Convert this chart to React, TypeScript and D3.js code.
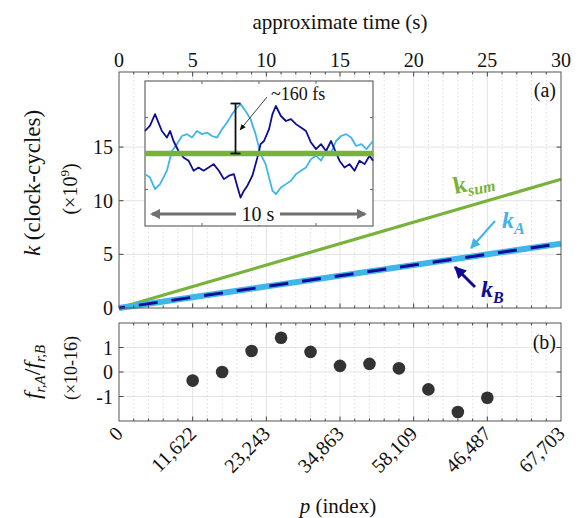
import React from 'react';
import * as d3 from 'd3';

// main panel (a)
const timeTicks = [0, 5, 10, 15, 20, 25, 30];
const kTicks = [0, 5, 10, 15];
const lineTime = [0, 30];
const kSum = [0, 12];
const kA = [0, 6];
const kB = [0, 6];

// panel (b)
const indexTickLabels = ['0', '11,622', '23,243', '34,863', '58,109', '46,487', '67,703'];
const ratioTicks = [-1, 0, 1];
const ratioTime = [5, 7, 9, 11, 13, 15, 17, 19, 21, 23, 25];
const ratioValues = [-0.35, 0, 0.86, 1.4, 0.82, 0.25, 0.33, 0.15, -0.71, -1.63, -1.05];

// inset (time in s, offset in fs)
const insetTimeB = [0, 0.22, 0.44, 0.59, 0.74, 0.96, 1.1, 1.25, 1.47, 1.69, 1.91, 2.13, 2.35, 2.57, 2.79, 3.01, 3.24, 3.46, 3.68, 3.9, 4.04, 4.19, 4.34, 4.49, 4.71, 4.93, 5.07, 5.22, 5.44, 5.59, 5.74, 5.96, 6.18, 6.4, 6.62, 6.84, 7.06, 7.28, 7.5, 7.72, 7.94, 8.16, 8.31, 8.53, 8.75, 8.97, 9.19, 9.41, 9.63, 9.85, 10];
const insetB = [72, 89, 126, 99, 72, 51, 72, 40, 8, -13, -23, -55, -45, -55, -45, -34, -55, -82, -71, -66, -103, -141, -119, -103, -71, -13, 30, 40, 78, 126, 152, 120, 104, 110, 94, 83, 72, 35, 14, 30, 8, 40, 14, -23, -45, -34, -55, -23, -34, -7, -23];
const insetTimeA = [0, 0.22, 0.44, 0.66, 0.96, 1.18, 1.4, 1.62, 1.84, 2.06, 2.28, 2.5, 2.72, 2.94, 3.16, 3.38, 3.6, 3.82, 4.04, 4.19, 4.41, 4.63, 4.85, 5.07, 5.29, 5.44, 5.59, 5.74, 5.96, 6.18, 6.4, 6.62, 6.84, 7.06, 7.28, 7.5, 7.72, 7.94, 8.16, 8.38, 8.6, 8.82, 9.04, 9.26, 9.49, 9.71, 10];
const insetA = [-66, -77, -114, -98, -55, 8, 30, 56, 62, 51, 72, 62, 67, 56, 51, 78, 99, 126, 147, 158, 136, 110, 62, -2, -34, -77, -119, -130, -109, -98, -87, -66, -55, -45, -18, -7, -23, 8, 3, 40, 56, 62, 51, 24, 30, 14, 40];
const insetTimeSum = [0, 10];
const insetSum = [0, 0];
const errorBar = [0, 160];

const GREEN = '#78b23a';
const LIGHT = '#3fb5e8';
const DARK = '#0c0c96';
const FONT = 'Liberation Serif';

export default function App() {
  const xL = 119, xR = 561;
  const aTop = 72, aBot = 308, bTop = 323, bBot = 421;

  const x = d3.scaleLinear().domain([0, 30]).range([xL, xR]);
  const yA = d3.scaleLinear().domain([0, 22]).range([aBot, aTop]);
  const yB = d3.scaleLinear().domain([-2, 2]).range([bBot, bTop]);

  const xi = d3.scaleLinear().domain([0, 10]).range([145, 373]);
  const yi = d3.scaleLinear().domain([-232, 232]).range([226, 81]);

  const minor = d3.range(1, 30).filter((v) => v % 5 !== 0);

  const mainLine = (vals: number[]) =>
    d3.line<number>().x((_, i) => x(lineTime[i])).y((d) => yA(d))(vals) || '';
  const insetLine = (ts: number[], vals: number[]) =>
    d3.line<number>().x((_, i) => xi(ts[i])).y((d) => yi(d))(vals) || '';

  const panelGrid = (top: number, bot: number, ys: number[], yScale: (v: number) => number) => (
    <g>
      {minor.map((t) => (
        <line key={'m' + t} x1={x(t)} x2={x(t)} y1={top} y2={bot} stroke="#d4d4d4" strokeDasharray="1.5,2.5" strokeWidth={0.8} />
      ))}
      {timeTicks.slice(1, -1).map((t) => (
        <line key={'M' + t} x1={x(t)} x2={x(t)} y1={top} y2={bot} stroke="#e3e3e3" strokeWidth={1} />
      ))}
      {ys.map((v) => (
        <line key={'h' + v} x1={xL} x2={xR} y1={yScale(v)} y2={yScale(v)} stroke="#e3e3e3" strokeWidth={1} />
      ))}
    </g>
  );

  const panelTicks = (top: number, bot: number, ys: number[], yScale: (v: number) => number) => (
    <g stroke="#444" strokeWidth={1}>
      {timeTicks.slice(1, -1).map((t) => (
        <g key={'t' + t}>
          <line x1={x(t)} x2={x(t)} y1={top} y2={top + 4.5} />
          <line x1={x(t)} x2={x(t)} y1={bot} y2={bot - 4.5} />
        </g>
      ))}
      {minor.map((t) => (
        <g key={'n' + t}>
          <line x1={x(t)} x2={x(t)} y1={top} y2={top + 2.5} />
          <line x1={x(t)} x2={x(t)} y1={bot} y2={bot - 2.5} />
        </g>
      ))}
      {ys.map((v) => (
        <g key={'y' + v}>
          <line x1={xL} x2={xL + 4.5} y1={yScale(v)} y2={yScale(v)} />
          <line x1={xR} x2={xR - 4.5} y1={yScale(v)} y2={yScale(v)} />
        </g>
      ))}
      <rect x={xL} y={top} width={xR - xL} height={bot - top} fill="none" stroke="#555" />
    </g>
  );

  return (
    <svg width={583} height={518} style={{ position: 'absolute', left: 0, top: 0, background: '#fff' }}>
      <defs>
        <marker id="arLight" viewBox="0 0 10 10" refX="9" refY="5" markerWidth="5" markerHeight="5" orient="auto">
          <path d="M0,0 L10,5 L0,10 z" fill={LIGHT} />
        </marker>
        <marker id="arDark" viewBox="0 0 10 10" refX="9" refY="5" markerWidth="4" markerHeight="4" orient="auto">
          <path d="M0,0 L10,5 L0,10 z" fill={DARK} />
        </marker>
        <marker id="arBlack" viewBox="0 0 10 10" refX="9" refY="5" markerWidth="8" markerHeight="8" orient="auto">
          <path d="M0,1 L10,5 L0,9 z" fill="#111" />
        </marker>
        <marker id="arGrayEnd" viewBox="0 0 10 10" refX="8" refY="5" markerWidth="3.5" markerHeight="3.5" orient="auto">
          <path d="M0,0 L10,5 L0,10 z" fill="#707070" />
        </marker>
        <marker id="arGrayStart" viewBox="0 0 10 10" refX="2" refY="5" markerWidth="3.5" markerHeight="3.5" orient="auto">
          <path d="M10,0 L0,5 L10,10 z" fill="#707070" />
        </marker>
      </defs>

      <g fontFamily={FONT}>
        {/* title and top axis labels */}
        <text x={(xL + xR) / 2} y={29} textAnchor="middle" fontSize={21} fill="#111">approximate time (s)</text>
        {timeTicks.map((t) => (
          <text key={'tl' + t} x={x(t)} y={67} textAnchor="middle" fontSize={20} fill="#111">{t}</text>
        ))}

        {/* panel (a) */}
        {panelGrid(aTop, aBot, kTicks.slice(1), yA)}
        {kTicks.map((v) => (
          <text key={'kl' + v} x={xL - 6} y={yA(v) + 7} textAnchor="end" fontSize={20} fill="#111">{v}</text>
        ))}
        <path d={mainLine(kSum)} fill="none" stroke={GREEN} strokeWidth={3.2} />
        <path d={mainLine(kA)} fill="none" stroke={LIGHT} strokeWidth={6} />
        <path d={mainLine(kB)} fill="none" stroke={DARK} strokeWidth={3} strokeDasharray="19,14" strokeDashoffset={-20} />

        {/* annotations */}
        <text x={455} y={194} transform="rotate(-12 455 194)" fill={GREEN} fontWeight="bold" fontSize={24}>
          k<tspan fontSize={16} fontStyle="italic" dy={5}>sum</tspan>
        </text>
        <text x={502} y={228} fill={LIGHT} fontWeight="bold" fontStyle="italic" fontSize={24}>
          k<tspan fontSize={16} dy={6}>A</tspan>
        </text>
        <line x1={495} y1={221} x2={471} y2={248} stroke={LIGHT} strokeWidth={2} markerEnd="url(#arLight)" />
        <text x={481} y={297} fill={DARK} fontWeight="bold" fontStyle="italic" fontSize={24}>
          k<tspan fontSize={16} dy={6}>B</tspan>
        </text>
        <line x1={475} y1={287} x2={455} y2={267} stroke={DARK} strokeWidth={3} markerEnd="url(#arDark)" />

        {/* inset */}
        <rect x={145} y={81} width={228} height={145} fill="#fff" stroke="#666" strokeWidth={1.2} />
        <g stroke="#666" strokeWidth={1}>
          {[2.5, 5, 7.5].map((t) => (
            <g key={'it' + t}>
              <line x1={xi(t)} x2={xi(t)} y1={81} y2={84} />
              <line x1={xi(t)} x2={xi(t)} y1={226} y2={223} />
            </g>
          ))}
          {[-115, 115].map((v) => (
            <g key={'iy' + v}>
              <line x1={145} x2={148} y1={yi(v)} y2={yi(v)} />
              <line x1={373} x2={370} y1={yi(v)} y2={yi(v)} />
            </g>
          ))}
        </g>
        <path d={insetLine(insetTimeA, insetA)} fill="none" stroke={LIGHT} strokeWidth={1.8} strokeLinejoin="round" />
        <path d={insetLine(insetTimeB, insetB)} fill="none" stroke={DARK} strokeWidth={1.8} strokeLinejoin="round" />
        <path d={insetLine(insetTimeSum, insetSum)} fill="none" stroke={GREEN} strokeWidth={5.5} />
        <g stroke="#111" strokeWidth={1.8}>
          <line x1={xi(3.97)} x2={xi(3.97)} y1={yi(errorBar[0])} y2={yi(errorBar[1])} />
          <line x1={xi(3.97) - 5} x2={xi(3.97) + 5} y1={yi(errorBar[0])} y2={yi(errorBar[0])} />
          <line x1={xi(3.97) - 5} x2={xi(3.97) + 5} y1={yi(errorBar[1])} y2={yi(errorBar[1])} />
        </g>
        <line x1={267} y1={97} x2={240} y2={130} stroke="#111" strokeWidth={0.8} markerEnd="url(#arBlack)" />
        <text x={271} y={100} fontSize={18} fill="#111">~160 fs</text>
        <line x1={152} y1={214} x2={365} y2={214} stroke="#707070" strokeWidth={3} markerStart="url(#arGrayStart)" markerEnd="url(#arGrayEnd)" />
        <rect x={236} y={203} width={44} height={22} fill="#fff" />
        <text x={258} y={221} textAnchor="middle" fontSize={20} fill="#111">10 s</text>

        {panelTicks(aTop, aBot, kTicks.slice(1), yA)}
        <text x={556} y={97} textAnchor="end" fontSize={20} fill="#111">(a)</text>

        {/* y label (a) */}
        <text transform="translate(40,183) rotate(-90)" textAnchor="middle" fontSize={23} fill="#111">
          <tspan fontStyle="italic">k</tspan> (clock-cycles)
        </text>
        <text transform="translate(77,189) rotate(-90)" textAnchor="middle" fontSize={20} fill="#111">
          (×10<tspan fontSize={13} dy={-8}>9</tspan><tspan dy={8}>)</tspan>
        </text>

        {/* panel (b) */}
        {panelGrid(bTop, bBot, ratioTicks, yB)}
        {ratioTicks.map((v) => (
          <text key={'rl' + v} x={xL - 6} y={yB(v) + 7} textAnchor="end" fontSize={20} fill="#111">{v}</text>
        ))}
        {ratioTime.map((t, i) => (
          <circle key={'d' + i} cx={x(t)} cy={yB(ratioValues[i])} r={6.3} fill="#333" />
        ))}
        {panelTicks(bTop, bBot, ratioTicks, yB)}
        <text x={556} y={349} textAnchor="end" fontSize={20} fill="#111">(b)</text>

        <text transform="translate(40,372) rotate(-90)" textAnchor="middle" fontSize={24} fill="#111">
          <tspan fontStyle="italic">f</tspan><tspan fontSize={15} fontStyle="italic" dy={5}>r,A</tspan>
          <tspan dy={-5}>/</tspan><tspan fontStyle="italic">f</tspan><tspan fontSize={15} fontStyle="italic" dy={5}>r,B</tspan>
        </text>
        <text transform="translate(77,368) rotate(-90)" textAnchor="middle" fontSize={18} fill="#111">(×10-16)</text>

        {indexTickLabels.map((s, i) => (
          <text key={'il' + i} transform={`translate(${x(timeTicks[i]) + 5},${bBot + 14}) rotate(-45)`} textAnchor="end" fontSize={20} fill="#111">{s}</text>
        ))}
        <text x={338} y={513} textAnchor="middle" fontSize={21} fill="#111">
          <tspan fontStyle="italic">p</tspan> (index)
        </text>
      </g>
    </svg>
  );
}
